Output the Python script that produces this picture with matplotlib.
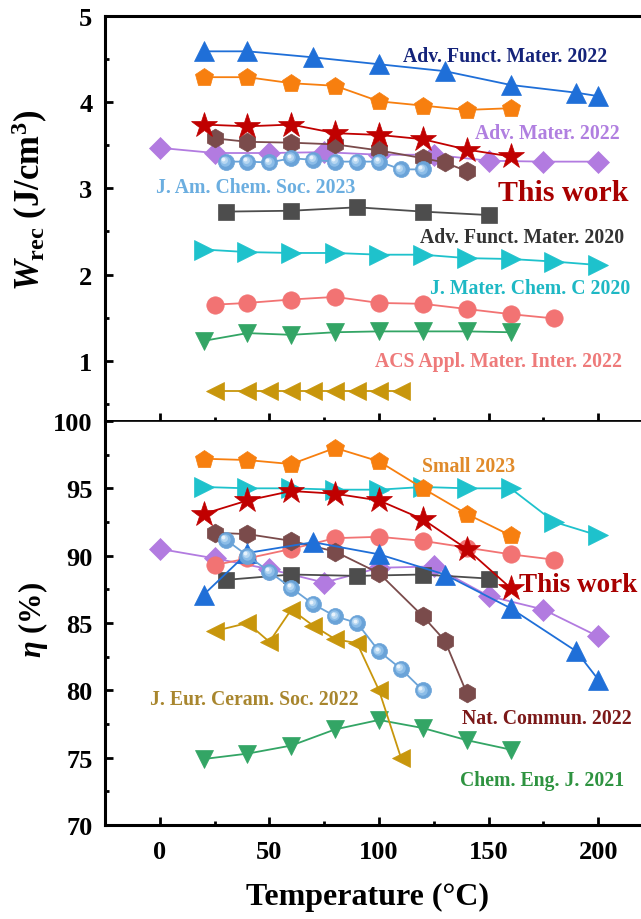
import matplotlib
matplotlib.use("Agg")
import matplotlib.pyplot as plt
from matplotlib.ticker import MultipleLocator
from matplotlib.transforms import offset_copy

plt.rcParams['font.family'] = ['Liberation Serif', 'DejaVu Serif']
plt.rcParams['font.weight'] = 'bold'
plt.rcParams['mathtext.fontset'] = 'custom'
plt.rcParams['mathtext.rm'] = 'Liberation Serif:bold'
plt.rcParams['mathtext.bf'] = 'Liberation Serif:bold'
plt.rcParams['mathtext.it'] = 'Liberation Serif:italic:bold'

# ---------------- recoverable energy density W_rec (J/cm3) ----------------
afm22_T = [20, 40, 70, 100, 130, 160, 190, 200]
afm22_W = [4.59, 4.59, 4.52, 4.44, 4.36, 4.20, 4.11, 4.07]
small23_T = [20, 40, 60, 80, 100, 120, 140, 160]
small23_W = [4.29, 4.29, 4.22, 4.19, 4.01, 3.96, 3.91, 3.93]
work_T = [20, 40, 60, 80, 100, 120, 140, 160]
work_W = [3.74, 3.72, 3.74, 3.64, 3.62, 3.57, 3.45, 3.37]
nat22_T = [25, 40, 60, 80, 100, 120, 130, 140]
nat22_W = [3.58, 3.54, 3.53, 3.51, 3.44, 3.35, 3.30, 3.20]
am22_T = [0, 25, 50, 75, 100, 125, 150, 175, 200]
am22_W = [3.47, 3.41, 3.41, 3.42, 3.39, 3.39, 3.32, 3.31, 3.31]
jacs23_T = [30, 40, 50, 60, 70, 80, 90, 100, 110, 120]
jacs23_W = [3.31, 3.31, 3.30, 3.35, 3.33, 3.31, 3.31, 3.31, 3.22, 3.22]
afm20_T = [30, 60, 90, 120, 150]
afm20_W = [2.73, 2.74, 2.78, 2.73, 2.69]
jmcc20_T = [20, 40, 60, 80, 100, 120, 140, 160, 180, 200]
jmcc20_W = [2.29, 2.26, 2.25, 2.25, 2.23, 2.23, 2.19, 2.18, 2.15, 2.11]
acs22_T = [25, 40, 60, 80, 100, 120, 140, 160, 180]
acs22_W = [1.65, 1.67, 1.71, 1.74, 1.67, 1.66, 1.60, 1.54, 1.49]
cej21_T = [20, 40, 60, 80, 100, 120, 140, 160]
cej21_W = [1.23, 1.32, 1.30, 1.33, 1.34, 1.34, 1.34, 1.33]
jecs22_T = [25, 40, 50, 60, 70, 80, 90, 100, 110]
jecs22_W = [0.65, 0.65, 0.65, 0.65, 0.65, 0.65, 0.65, 0.65, 0.65]

# ---------------- efficiency eta (%) ----------------
afm22_eta = [87.1, 90.2, 91.0, 90.1, 88.6, 86.1, 82.9, 80.8]
small23_eta = [97.2, 97.1, 96.8, 98.0, 97.0, 95.0, 93.1, 91.5]
work_eta = [93.1, 94.1, 94.8, 94.6, 94.1, 92.7, 90.5, 87.6]
nat22_eta = [91.7, 91.6, 91.1, 90.3, 88.7, 85.5, 83.7, 79.8]
am22_eta = [90.5, 89.8, 89.0, 88.0, 89.1, 89.2, 87.0, 86.0, 84.0]
jacs23_eta = [91.2, 90.0, 88.8, 87.6, 86.4, 85.5, 85.0, 82.9, 81.6, 80.0]
afm20_eta = [88.2, 88.6, 88.5, 88.6, 88.3]
jmcc20_eta = [95.1, 95.0, 95.0, 94.9, 94.9, 95.1, 95.0, 95.0, 92.5, 91.5]
acs22_eta = [89.3, 89.8, 90.5, 91.3, 91.4, 91.1, 90.6, 90.1, 89.7]
cej21_eta = [74.9, 75.3, 75.9, 77.1, 77.8, 77.2, 76.3, 75.6]
jecs22_eta = [84.4, 85.0, 83.6, 86.0, 84.8, 83.8, 83.5, 80.0, 75.0]

fig = plt.figure(figsize=(6.41, 9.20), dpi=100)
L, W = 105 / 641, 559 / 641
ax1 = fig.add_axes([L, 1 - 422 / 920, W, 405 / 920])
ax2 = fig.add_axes([L, 1 - 826 / 920, W, 404 / 920])

LW = 1.3

series = [
    # (T, W, eta, marker, ms, colour)
    (am22_T, am22_W, am22_eta, 'D', 11.5, '#B27BE0'),
    (afm20_T, afm20_W, afm20_eta, 's', 11, '#4D4D4D'),
    (acs22_T, acs22_W, acs22_eta, 'o', 12.5, '#F27373'),
    (nat22_T, nat22_W, nat22_eta, 'h', 13.5, '#7A4B4B'),
    (afm22_T, afm22_W, afm22_eta, '^', 14, '#1F6FD8'),
    (cej21_T, cej21_W, cej21_eta, 'v', 13.5, '#33A565'),
    (jecs22_T, jecs22_W, jecs22_eta, '<', 13, '#C8960C'),
    (jmcc20_T, jmcc20_W, jmcc20_eta, '>', 14, '#1EC2CC'),
    (small23_T, small23_W, small23_eta, 'p', 13.5, '#F77F0F'),
    (jacs23_T, jacs23_W, jacs23_eta, 'o', 11.5, '#6AA3D8'),
    (work_T, work_W, work_eta, '*', 19, '#C00000'),
]

for ax, idx in ((ax1, 1), (ax2, 2)):
    for s in series:
        T, y = s[0], s[idx]
        ax.plot(T, y, color=s[5], lw=LW, marker=s[3], ms=s[4],
                mec=s[5], mfc=s[5], mew=0.5)
        if s[5] == '#6AA3D8':
            # glossy sphere look: lighter discs nudged towards the upper left
            for k, (sz, c) in enumerate([(7.5, '#8CBDE8'), (5, '#B6D7F2'),
                                         (2.8, '#E8F3FC')]):
                tr = offset_copy(ax.transData, fig=fig, x=-0.6 * (k + 1),
                                 y=0.6 * (k + 1), units='points')
                ax.plot(T, y, ls='none', marker='o', ms=sz, mfc=c, mec='none',
                        transform=tr)

ax1.set_xlim(-25, 230)
ax2.set_xlim(-25, 230)
ax1.set_ylim(0.3, 5)
ax2.set_ylim(70, 100)

for ax in (ax1, ax2):
    ax.xaxis.set_major_locator(MultipleLocator(50))
    ax.xaxis.set_minor_locator(MultipleLocator(25))
    ax.tick_params(which='both', direction='in', top=False, right=False,
                   labelsize=19, pad=9)
    ax.tick_params(which='major', length=6, width=2)
    ax.tick_params(which='minor', length=3, width=2)
    for sp in ax.spines.values():
        sp.set_linewidth(2.2)
    for lab in ax.get_xticklabels() + ax.get_yticklabels():
        lab.set_fontweight('bold')

ax1.yaxis.set_major_locator(MultipleLocator(1))
ax1.yaxis.set_minor_locator(MultipleLocator(0.5))
ax2.yaxis.set_major_locator(MultipleLocator(5))
ax2.yaxis.set_minor_locator(MultipleLocator(2.5))
ax1.tick_params(axis='x', labelbottom=False)
ax1.spines['bottom'].set_linewidth(1.2)
ax2.spines['top'].set_linewidth(1.2)
ax2.tick_params(axis='x', pad=11)

ax1.set_ylabel(r'$W_{\rm rec}$ (J/cm$^{\rm 3}$)', fontsize=25, fontweight='bold')
ax2.set_ylabel(r'$\eta$ (%)', fontsize=22, fontweight='bold')
ax1.yaxis.set_label_coords(-0.098, 0.548)
ax2.yaxis.set_label_coords(-0.098, 0.51)
fig.text(368 / 641, 1 - 897 / 920, 'Temperature (°C)', fontsize=23,
         fontweight='bold', ha='center', va='center')

fs = 14.2
ann_top = [
    ('Adv. Funct. Mater. 2022', 157.6, 4.54, '#14237A', fs),
    ('Adv. Mater. 2022', 176.6, 3.64, '#B07FE0', fs),
    ('J. Am. Chem. Soc. 2023', 43.7, 3.02, '#6BAEE0', fs),
    ('This work', 184, 2.95, '#A80000', 21.5),
    ('Adv. Funct. Mater. 2020', 165.2, 2.43, '#333333', fs),
    ('J. Mater. Chem. C 2020', 169, 1.84, '#1EB8C4', fs),
    ('ACS Appl. Mater. Inter. 2022', 154.6, 1.00, '#EE7A7A', fs),
]
for txt, x, y, c, f in ann_top:
    ax1.text(x, y, txt, color=c, fontsize=f, fontweight='bold',
             ha='center', va='center')

ann_bot = [
    ('Small 2023', 140.9, 96.66, '#E08A2A', fs),
    ('This work', 190.9, 87.84, '#A80000', 19.5),
    ('J. Eur. Ceram. Soc. 2022', 43, 79.36, '#A8862E', fs),
    ('Nat. Commun. 2022', 176.6, 77.98, '#7B1818', fs),
    ('Chem. Eng. J. 2021', 174.4, 73.36, '#2E9340', fs),
]
for txt, x, y, c, f in ann_bot:
    ax2.text(x, y, txt, color=c, fontsize=f, fontweight='bold',
             ha='center', va='center')

fig.savefig('out.png', dpi=100)
